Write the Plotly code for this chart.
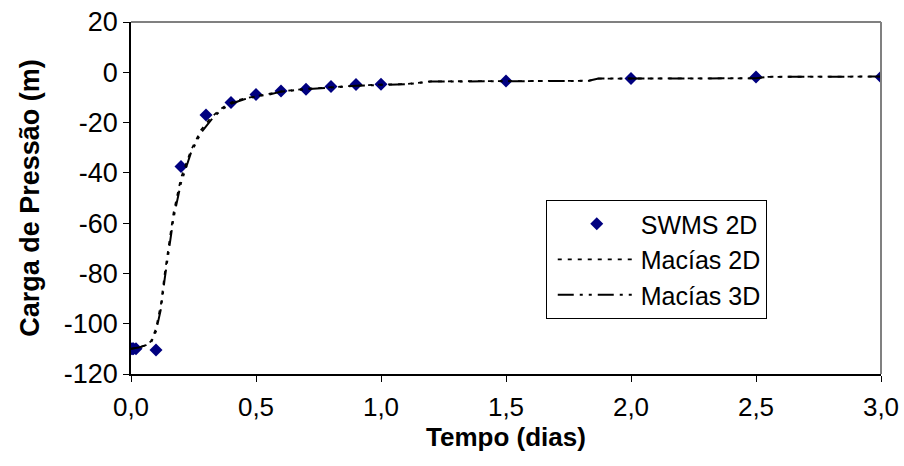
import plotly.graph_objects as go

# SWMS 2D points
swms_t = [0.0, 0.005, 0.01, 0.02, 0.1, 0.2, 0.3, 0.4, 0.5, 0.6, 0.7, 0.8, 0.9, 1.0, 1.5, 2.0, 2.5, 3.0]
swms_h = [-110, -110, -110, -110, -110.5, -37.5, -17, -12, -8.8, -7.4, -6.7, -5.7, -4.9, -4.8, -3.5, -2.5, -1.9, -1.9]

# Macías 2D (dotted)
m2_t = [0.0, 0.03, 0.06, 0.08, 0.1, 0.12, 0.135, 0.15, 0.17, 0.2, 0.24, 0.28, 0.32, 0.36, 0.4, 0.45,
        0.5, 0.55, 0.6, 0.7, 0.8, 0.9, 1.0, 1.1, 1.2, 1.5, 1.83, 1.87, 2.5, 2.55, 3.0]
m2_h = [-110, -109.5, -108.5, -107, -102, -92, -80, -69, -56, -42, -31, -23, -18, -14.5, -12, -10.5,
        -9.5, -8.8, -7.6, -6.6, -5.9, -5.3, -4.9, -4.7, -3.6, -3.5, -3.4, -2.5, -2.4, -1.8, -1.7]

# Macías 3D (dash-dot)
m3_t = [0.0, 0.03, 0.06, 0.08, 0.1, 0.12, 0.135, 0.15, 0.17, 0.2, 0.24, 0.28, 0.32, 0.36, 0.4, 0.45,
        0.5, 0.55, 0.6, 0.7, 0.8, 0.9, 1.0, 1.1, 1.2, 1.5, 1.83, 1.87, 2.5, 2.55, 3.0]
m3_h = [-110, -109.5, -108.5, -107.5, -103, -94, -82, -71, -58, -44, -32, -24, -19, -15, -12.5, -10.8,
        -9.6, -8.9, -7.7, -6.7, -6.0, -5.4, -5.0, -4.8, -3.7, -3.5, -3.4, -2.5, -2.4, -1.8, -1.7]

x_ticks = [0, 0.5, 1.0, 1.5, 2.0, 2.5, 3.0]
x_labels = ["0,0", "0,5", "1,0", "1,5", "2,0", "2,5", "3,0"]
y_ticks = [20, 0, -20, -40, -60, -80, -100, -120]
y_labels = ["20", "0", "-20", "-40", "-60", "-80", "-100", "-120"]

FONT = "Liberation Sans, Arial, sans-serif"

fig = go.Figure()
fig.add_trace(go.Scatter(x=swms_t, y=swms_h, mode="markers", name="SWMS 2D", legendgroup="a",
                         marker=dict(symbol="diamond", size=10, color="#000080")))
fig.add_trace(go.Scatter(x=m2_t, y=m2_h, mode="lines", name="Macías 2D", legendgroup="b",
                         line=dict(color="black", width=1.8, dash="4px,6px")))
fig.add_trace(go.Scatter(x=m3_t, y=m3_h, mode="lines", name="Macías 3D", legendgroup="c",
                         line=dict(color="black", width=2, dash="16px,6px,3px,6px,3px,6px")))

fig.update_layout(
    width=904, height=466,
    margin=dict(l=131, r=23, t=22, b=92),
    paper_bgcolor="white", plot_bgcolor="white",
    font=dict(family=FONT, size=26, color="black"),
    showlegend=True,
    legend=dict(x=0.553, y=0.494, xanchor="left", yanchor="top",
                bordercolor="black", borderwidth=1, bgcolor="white",
                font=dict(size=25), itemwidth=78, indentation=6, tracegroupgap=0,
                traceorder="grouped"),
    xaxis=dict(range=[0, 3.0], tickvals=x_ticks, ticktext=x_labels, automargin=False,
               showgrid=False, zeroline=False, showline=True, linecolor="black", linewidth=1.5,
               ticks="outside", ticklen=6, tickcolor="black", ticklabelstandoff=3,
               tickfont=dict(size=26),
               title=dict(text="<b>Tempo (dias)</b>", font=dict(size=26), standoff=2)),
    yaxis=dict(range=[-120, 20], tickvals=y_ticks, ticktext=y_labels, automargin=False,
               showgrid=False, zeroline=False, showline=True, linecolor="black", linewidth=1.5,
               ticks="outside", ticklen=6, tickcolor="black", ticklabelstandoff=0,
               tickfont=dict(size=27),
               title=dict(text="<b>Carga de Pressão (m)</b>", font=dict(size=27), standoff=16)),
)

# gray frame on top and right of plot area
fig.add_shape(type="line", xref="paper", yref="paper", x0=0, x1=1, y0=1, y1=1,
              line=dict(color="#808080", width=2))
fig.add_shape(type="line", xref="paper", yref="paper", x0=1, x1=1, y0=0, y1=1,
              line=dict(color="#808080", width=2))

fig.write_html("out.html", config={"displayModeBar": False},
               post_script="document.body.style.margin='0';document.body.style.overflow='hidden';")
